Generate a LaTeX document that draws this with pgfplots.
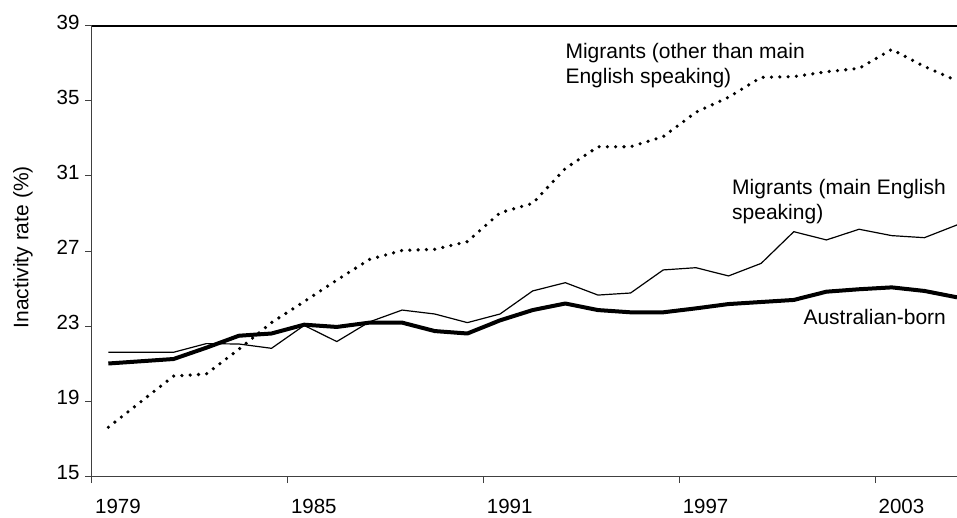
\documentclass[border=0pt]{standalone}
\usepackage{fontspec}
\setmainfont{Liberation Sans}
\usepackage{pgfplots}
\pgfplotsset{compat=1.18}
\definecolor{axgray}{HTML}{404040}
\begin{document}
\begin{tikzpicture}
\begin{axis}[
  scale only axis, width=865pt, height=450pt,
  xmin=1978.5, xmax=2005, ymin=15, ymax=39,
  axis x line*=bottom, axis y line*=left,
  axis line style={draw=axgray, line width=1pt, -},
  xtick={1978.5,1984.5,1990.5,1996.5,2002.5},
  xticklabels={1979,1985,1991,1997,2003},
  ytick={15,19,23,27,31,35,39},
  tick align=outside, major tick length=7pt,
  every tick/.style={draw=axgray, line width=1pt},
  /pgf/number format/assume math mode=true,
  xticklabel style={anchor=base, yshift=-30.5pt, xshift=26pt, font=\fontsize{20.5}{24}\selectfont},
  yticklabel style={anchor=east, xshift=-2pt, yshift=3.5pt, font=\fontsize{20.5}{24}\selectfont},
  ylabel={Inactivity rate (\%)},
  ylabel style={at={(axis description cs:-0.0736,0.508)}, anchor=base, font=\fontsize{21}{24}\selectfont},
  clip=true,
]
\addplot[black, line width=1.2pt, line join=round] coordinates {
(1979,21.6) (1981,21.6) (1982,22.06) (1983,22.04) (1984,21.81) (1985,23.03)
(1986,22.17) (1987,23.22) (1988,23.85) (1989,23.64) (1990,23.18) (1991,23.64)
(1992,24.87) (1993,25.31) (1994,24.65) (1995,24.76) (1996,25.99) (1997,26.11)
(1998,25.67) (1999,26.34) (2000,28.03) (2001,27.59) (2002,28.16) (2003,27.82)
(2004,27.71) (2005,28.39)};
\addplot[black, line width=4pt, line join=round] coordinates {
(1979,21.0) (1981,21.24) (1982,21.84) (1983,22.48) (1984,22.6) (1985,23.07)
(1986,22.95) (1987,23.18) (1988,23.18) (1989,22.73) (1990,22.6) (1991,23.3)
(1992,23.85) (1993,24.2) (1994,23.85) (1995,23.73) (1996,23.73) (1997,23.94)
(1998,24.17) (1999,24.28) (2000,24.39) (2001,24.83) (2002,24.96) (2003,25.06)
(2004,24.87) (2005,24.53)};
\addplot[black, line width=3.6pt, line cap=round, dash pattern=on 0pt off 8.3pt] coordinates {
(1979,17.6) (1981,20.33) (1982,20.44) (1983,21.76) (1984,23.18) (1985,24.3)
(1986,25.45) (1987,26.55) (1988,27.03) (1989,27.09) (1990,27.5) (1991,29.04)
(1992,29.54) (1993,31.4) (1994,32.56) (1995,32.56) (1996,33.1) (1997,34.4)
(1998,35.2) (1999,36.26) (2000,36.3) (2001,36.56) (2002,36.74) (2003,37.75)
(2004,36.84) (2005,36.08)};
\draw[black, line width=1.2pt] (rel axis cs:0,1) -- (rel axis cs:1,1);
\end{axis}
\begin{scope}[every node/.style={anchor=base west, inner sep=0pt, font=\fontsize{21}{25}\selectfont}]
\node at ([xshift=473.3pt, yshift=-33pt]current axis.north west) {Migrants (other than main};
\node at ([xshift=473.3pt, yshift=-57.3pt]current axis.north west) {English speaking)};
\node at ([xshift=640pt, yshift=-169pt]current axis.north west) {Migrants (main English};
\node at ([xshift=640pt, yshift=-194pt]current axis.north west) {speaking)};
\node at ([xshift=711.3pt, yshift=151.7pt]current axis.south west) {Australian-born};
\end{scope}
\pgfresetboundingbox
\path[use as bounding box] ([xshift=-92pt, yshift=-41pt]current axis.south west) rectangle ([yshift=26pt]current axis.north east);
\end{tikzpicture}
\end{document}
